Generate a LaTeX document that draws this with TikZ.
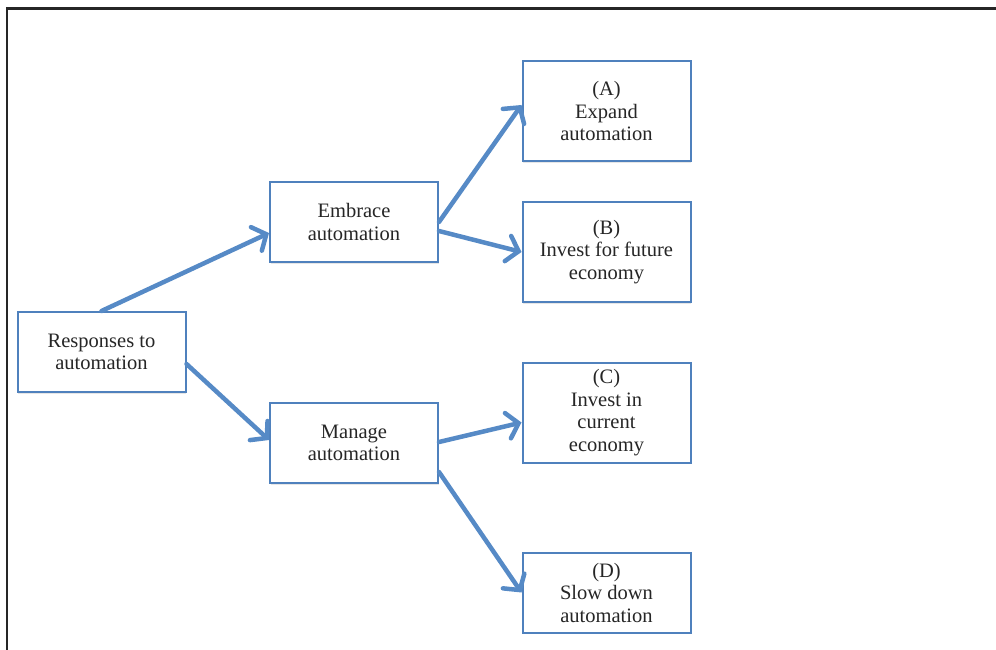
\documentclass[tikz,border=0pt]{standalone}
\usepackage{fontspec}
\setmainfont{Liberation Serif}
\usetikzlibrary{arrows.meta,shadows}
\definecolor{boxblue}{RGB}{79,129,189}
\definecolor{arrblue}{RGB}{86,138,198}
\begin{document}
\begin{tikzpicture}[x=1pt,y=-1pt,
  box/.style={draw=boxblue, fill=white, line width=2pt, minimum width=168pt, minimum height=80pt,
    align=center, font=\fontsize{20.5}{22.5}\selectfont, text=black!85, inner sep=0pt,
    drop shadow={opacity=0.2, shadow xshift=0.8pt, shadow yshift=-1.8pt}},
  tallbox/.style={box, minimum height=100pt},
  conn/.style={draw=arrblue, line width=4.5pt, line cap=round,
    -{Straight Barb[length=11pt,width=26pt,line cap=round]}}]
\useasboundingbox (0,0) rectangle (996,650);
\draw[line width=2.5pt, black!85] (7,652) -- (7,8.5) -- (998,8.5);

\node[box] (resp) at (101.5,352) {Responses to\\automation};
\node[box] (emb) at (354,222) {Embrace\\automation};
\node[box] (man) at (354,443) {Manage\\automation};
\node[tallbox] (a) at (606.5,111) {(A)\\Expand\\automation};
\node[tallbox] (b) at (606.5,252) {(B)\\Invest for future\\economy};
\node[tallbox] (c) at (606.5,412.5) {(C)\\Invest in\\current\\economy};
\node[box] (d) at (606.5,592.5) {(D)\\Slow down\\automation};

\draw[conn] (resp.north) -- ([yshift=-11pt]emb.west);
\draw[conn] ([yshift=-12pt]resp.east) -- ([yshift=3pt]man.west);
\draw[conn] ([yshift=0pt]emb.east) -- ([yshift=6pt]a.west);
\draw[conn] ([yshift=-9pt]emb.east) -- (b.west);
\draw[conn] ([yshift=1pt]man.east) -- ([yshift=-10pt]c.west);
\draw[conn] ([yshift=-29pt]man.east) -- (d.west);
\end{tikzpicture}
\end{document}
